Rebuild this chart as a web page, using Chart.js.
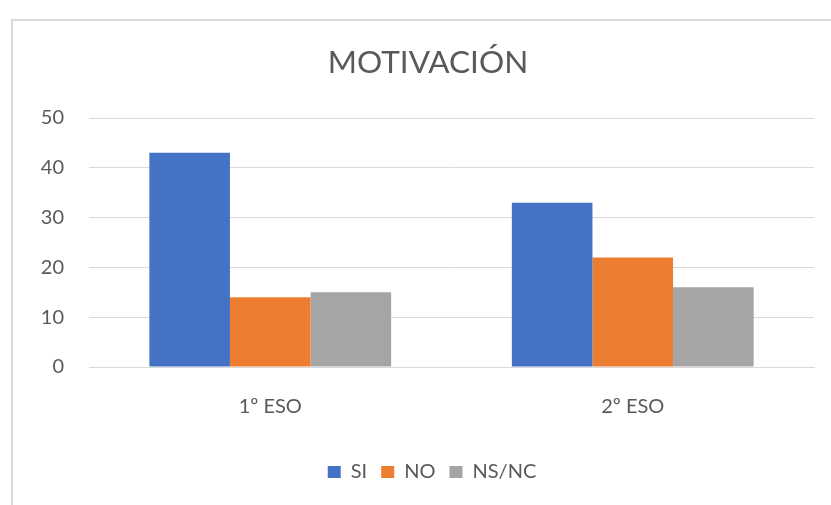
<!DOCTYPE html>
<html>
<head>
<meta charset="utf-8">
<script src="https://cdn.jsdelivr.net/npm/chart.js@4/dist/chart.umd.min.js"></script>
<style>
  html, body { margin: 0; padding: 0; background: #ffffff; overflow: hidden; }
  #frame { position: absolute; left: 11px; top: 19px; width: 900px; height: 600px;
           border-left: 2px solid #D9D9D9; border-top: 2px solid #D9D9D9; box-sizing: border-box; }
  #wrap { position: absolute; left: 0; top: 0; width: 831px; height: 505px; }
</style>
</head>
<body>
<div id="frame"></div>
<div id="wrap"><canvas id="c" width="831" height="505"></canvas></div>
<script>
const titleText = 'MOTIVACIÓN';
const categories = ['1º ESO', '2º ESO'];
const seriesNames = ['SI', 'NO', 'NS/NC'];
const siValues = [43, 33];
const noValues = [14, 22];
const nsncValues = [15, 16];
const yTicks = [0, 10, 20, 30, 40, 50];
const seriesColors = ['#4472C4', '#ED7D31', '#A5A5A5'];

const textColor = '#595959';
const fontFamily = 'Lato, "Open Sans", sans-serif';

// Title and legend are centred on the (wider) chart frame, not the canvas
const shiftBlocks = {
  id: 'shiftBlocks',
  afterLayout(chart) {
    if (chart.titleBlock) { chart.titleBlock.left += 21; chart.titleBlock.right += 21; }
    if (chart.legend) { chart.legend.left += 25; chart.legend.right += 25; }
  }
};

new Chart(document.getElementById('c'), {
  type: 'bar',
  data: {
    labels: categories,
    datasets: [siValues, noValues, nsncValues].map((vals, i) => ({
      label: seriesNames[i],
      data: vals,
      backgroundColor: seriesColors[i],
      borderWidth: 0,
      categoryPercentage: 0.667,
      barPercentage: 1.0
    }))
  },
  plugins: [shiftBlocks],
  options: {
    responsive: false,
    animation: false,
    devicePixelRatio: 1,
    layout: { padding: { left: 0, right: 17, top: 0, bottom: 13 } },
    plugins: {
      title: {
        display: true,
        text: titleText,
        color: textColor,
        font: { family: fontFamily, size: 31.5, weight: 'normal' },
        padding: { top: 43.5, bottom: 36.7 }
      },
      legend: {
        position: 'bottom',
        labels: {
          color: textColor,
          font: { family: fontFamily, size: 20 },
          boxWidth: 13,
          boxHeight: 12,
          padding: 14
        }
      },
      tooltip: { enabled: false }
    },
    scales: {
      x: {
        grid: { display: false },
        border: { display: true, color: '#D9D9D9', width: 1 },
        ticks: { color: textColor, font: { family: fontFamily, size: 20 }, padding: 20 },
        afterFit: (s) => { s.height = 81; }
      },
      y: {
        min: 0,
        max: 50,
        afterBuildTicks: (s) => { s.ticks = yTicks.map(v => ({ value: v })); },
        grid: { color: '#D9D9D9', lineWidth: 1, drawTicks: false },
        border: { display: false },
        ticks: { color: textColor, font: { family: fontFamily, size: 20 }, padding: 25 },
        afterFit: (s) => { s.width = 89; }
      }
    }
  }
});
</script>
</body>
</html>
